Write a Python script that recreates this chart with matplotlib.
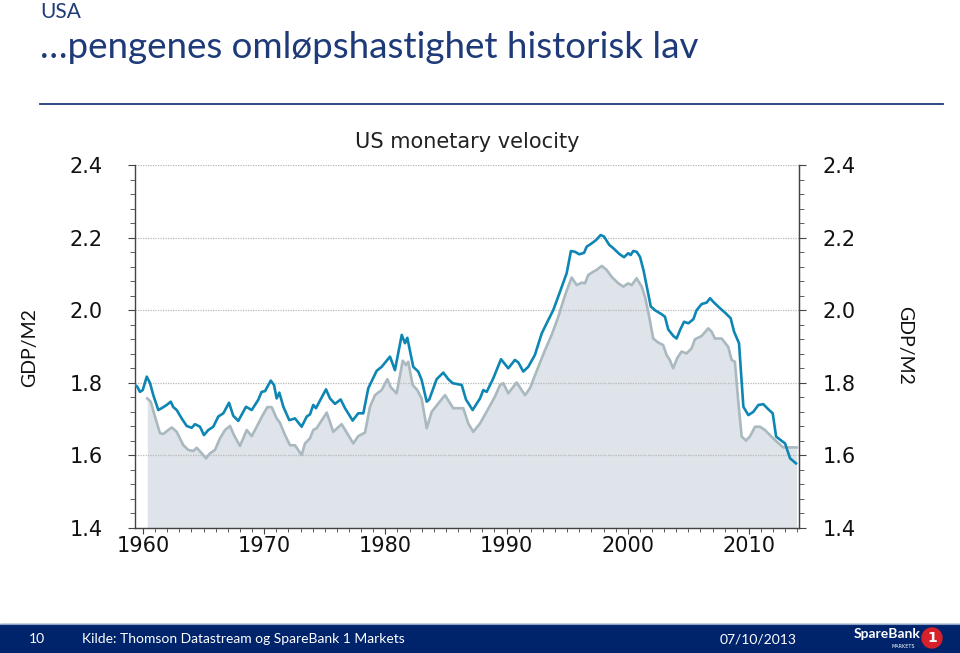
import matplotlib
matplotlib.use("Agg")
import matplotlib.pyplot as plt
from matplotlib.patches import Rectangle, Ellipse
from matplotlib.lines import Line2D
from matplotlib.ticker import MultipleLocator

# GDP/M2, blue series
blue_years = [1959.34, 1959.53, 1959.75, 1959.98, 1960.31, 1960.58, 1960.85, 1961.26, 1961.54, 1961.96,
              1962.29, 1962.50, 1962.78, 1963.19, 1963.61, 1964.02, 1964.29, 1964.70, 1965.03, 1965.39,
              1965.80, 1966.21, 1966.63, 1967.10, 1967.45, 1967.86, 1968.50, 1968.97, 1969.51, 1969.79,
              1970.07, 1970.54, 1970.81, 1971.03, 1971.25, 1971.58, 1972.07, 1972.54, 1973.09, 1973.51,
              1973.78, 1974.05, 1974.27, 1975.10, 1975.43, 1975.84, 1976.31, 1976.67, 1977.30, 1977.76,
              1978.18, 1978.59, 1979.28, 1979.69, 1980.38, 1980.79, 1981.35, 1981.62, 1981.81, 1982.30,
              1982.71, 1982.99, 1983.41, 1983.62, 1984.23, 1984.78, 1985.19, 1985.55, 1986.30, 1986.65,
              1987.20, 1987.81, 1988.08, 1988.36, 1988.90, 1989.54, 1990.14, 1990.69, 1990.97, 1991.38,
              1991.79, 1992.34, 1992.90, 1993.31, 1993.85, 1994.41, 1994.96, 1995.31, 1995.64, 1996.00,
              1996.39, 1996.61, 1997.02, 1997.38, 1997.76, 1998.04, 1998.47, 1998.80, 1999.30, 1999.69,
              2000.04, 2000.24, 2000.45, 2000.73, 2001.01, 2001.30, 2001.60, 2001.90, 2002.29, 2002.79,
              2003.07, 2003.34, 2003.76, 2004.03, 2004.31, 2004.64, 2005.00, 2005.41, 2005.68, 2006.10,
              2006.51, 2006.79, 2007.06, 2007.56, 2008.03, 2008.49, 2008.77, 2009.18, 2009.54, 2009.95,
              2010.36, 2010.78, 2011.19, 2011.60, 2011.96, 2012.24, 2012.62, 2012.98, 2013.39, 2013.88]
blue_values = [1.794, 1.789, 1.775, 1.780, 1.817, 1.799, 1.766, 1.725, 1.730, 1.739,
               1.748, 1.733, 1.725, 1.702, 1.681, 1.676, 1.686, 1.679, 1.656, 1.670,
               1.679, 1.707, 1.716, 1.745, 1.709, 1.695, 1.734, 1.725, 1.753, 1.775,
               1.777, 1.806, 1.794, 1.757, 1.773, 1.734, 1.697, 1.702, 1.679, 1.707,
               1.713, 1.739, 1.730, 1.782, 1.757, 1.742, 1.754, 1.730, 1.696, 1.716,
               1.716, 1.785, 1.833, 1.844, 1.872, 1.835, 1.932, 1.909, 1.924, 1.844,
               1.831, 1.808, 1.748, 1.754, 1.810, 1.828, 1.810, 1.799, 1.794, 1.754,
               1.725, 1.757, 1.780, 1.775, 1.812, 1.865, 1.840, 1.863, 1.856, 1.831,
               1.844, 1.877, 1.936, 1.964, 2.000, 2.051, 2.102, 2.163, 2.161, 2.154,
               2.158, 2.175, 2.184, 2.193, 2.207, 2.203, 2.180, 2.171, 2.155, 2.146,
               2.157, 2.152, 2.163, 2.161, 2.147, 2.110, 2.060, 2.010, 1.999, 1.989,
               1.982, 1.947, 1.929, 1.922, 1.945, 1.968, 1.964, 1.975, 2.000, 2.017,
               2.021, 2.033, 2.023, 2.007, 1.993, 1.978, 1.941, 1.909, 1.734, 1.711,
               1.720, 1.739, 1.741, 1.727, 1.716, 1.652, 1.642, 1.633, 1.592, 1.578]

# grey series with shaded area
grey_years = [1960.35, 1960.64, 1960.99, 1961.40, 1961.67, 1962.09, 1962.37, 1962.78, 1963.05, 1963.33,
              1963.74, 1964.15, 1964.43, 1964.84, 1965.20, 1965.53, 1965.94, 1966.35, 1966.77, 1967.18,
              1967.51, 1968.00, 1968.56, 1968.97, 1969.38, 1969.88, 1970.26, 1970.62, 1971.03, 1971.30,
              1971.72, 1972.13, 1972.54, 1973.09, 1973.37, 1973.78, 1974.05, 1974.33, 1975.16, 1975.70,
              1976.39, 1976.94, 1977.35, 1977.76, 1978.32, 1978.73, 1979.14, 1979.69, 1980.16, 1980.44,
              1980.93, 1981.43, 1981.70, 1981.89, 1982.25, 1982.63, 1982.99, 1983.41, 1983.82, 1984.36,
              1984.92, 1985.60, 1986.43, 1986.84, 1987.25, 1987.81, 1988.38, 1989.04, 1989.46, 1989.73,
              1990.14, 1990.83, 1991.52, 1991.93, 1992.62, 1993.17, 1993.72, 1994.27, 1994.83, 1995.37,
              1995.79, 1996.20, 1996.47, 1996.74, 1997.15, 1997.43, 1997.85, 1998.26, 1998.67, 1999.22,
              1999.63, 2000.04, 2000.32, 2000.73, 2001.15, 2001.42, 2001.69, 2002.10, 2002.51, 2002.92,
              2003.20, 2003.47, 2003.75, 2004.08, 2004.44, 2004.85, 2005.27, 2005.54, 2006.10, 2006.64,
              2006.92, 2007.19, 2007.75, 2008.29, 2008.57, 2008.84, 2009.12, 2009.40, 2009.75, 2010.08,
              2010.50, 2010.91, 2011.32, 2011.73, 2012.29, 2012.83, 2013.93]
grey_values = [1.757, 1.748, 1.707, 1.661, 1.659, 1.670, 1.677, 1.665, 1.647, 1.628,
               1.615, 1.612, 1.621, 1.606, 1.592, 1.606, 1.615, 1.647, 1.670, 1.681,
               1.656, 1.626, 1.670, 1.653, 1.679, 1.711, 1.733, 1.733, 1.702, 1.690,
               1.656, 1.628, 1.628, 1.601, 1.633, 1.647, 1.670, 1.675, 1.718, 1.665,
               1.686, 1.656, 1.633, 1.653, 1.663, 1.734, 1.766, 1.780, 1.810, 1.788,
               1.771, 1.861, 1.849, 1.858, 1.794, 1.780, 1.757, 1.675, 1.720, 1.743,
               1.766, 1.730, 1.730, 1.688, 1.665, 1.688, 1.722, 1.762, 1.794, 1.799,
               1.771, 1.801, 1.766, 1.785, 1.844, 1.890, 1.932, 1.982, 2.042, 2.090,
               2.069, 2.076, 2.074, 2.097, 2.106, 2.111, 2.122, 2.111, 2.092, 2.074,
               2.065, 2.074, 2.069, 2.088, 2.065, 2.037, 1.996, 1.922, 1.911, 1.904,
               1.877, 1.863, 1.840, 1.868, 1.886, 1.881, 1.895, 1.920, 1.929, 1.950,
               1.941, 1.922, 1.922, 1.899, 1.863, 1.858, 1.748, 1.652, 1.641, 1.652,
               1.679, 1.679, 1.670, 1.656, 1.638, 1.622, 1.622]

navy = "#1f3a78"
blue = "#0e86b4"
grey_line = "#a9b9bf"
grey_fill = "#dee4e9"

fig = plt.figure(figsize=(9.6, 6.53), dpi=100)

# header
fig.text(40 / 960, 1 - 12 / 653, "USA", family="Lato", fontsize=15, color=navy, va="center")
fig.text(40 / 960, 1 - 47 / 653, "\u2026pengenes omløpshastighet historisk lav", family="Lato",
         fontsize=26.5, color=navy, va="center")
fig.add_artist(Line2D([40 / 960, 943 / 960], [1 - 104 / 653, 1 - 104 / 653],
                      transform=fig.transFigure, color=navy, lw=1.3))

# chart
ax = fig.add_axes([135 / 960, 1 - 528 / 653, 664 / 960, 363 / 653])
ax.fill_between(grey_years, grey_values, 1.4, color=grey_fill, lw=0, zorder=1)
ax.plot(grey_years, grey_values, color=grey_line, lw=1.9, zorder=2)
ax.plot(blue_years, blue_values, color=blue, lw=1.9, zorder=3)

ax.set_xlim(1959.34, 2014.13)
ax.set_ylim(1.4, 2.4)
ax.yaxis.set_major_locator(MultipleLocator(0.2))
ax.yaxis.set_minor_locator(MultipleLocator(0.04))
ax.xaxis.set_major_locator(MultipleLocator(10))
ax.xaxis.set_minor_locator(MultipleLocator(1))
ax.yaxis.set_major_formatter(matplotlib.ticker.FormatStrFormatter("%.1f"))
ax.grid(axis="y", which="major", color="#b8b8b8", ls=(0, (1, 1)), lw=0.9)

ax.spines["top"].set_visible(False)
for s in ["left", "right", "bottom"]:
    ax.spines[s].set_color("#444444")
    ax.spines[s].set_linewidth(1.0)

ax.tick_params(axis="both", which="both", direction="out", colors="#444444", labelcolor="#111111")
ax.tick_params(axis="y", which="major", length=5, labelsize=15, pad=18)
ax.tick_params(axis="y", which="minor", length=3.5)
ax.tick_params(axis="x", which="major", length=4, labelsize=15, pad=2)
ax.tick_params(axis="x", which="minor", length=3)

ax2 = ax.twinx()
ax2.set_ylim(1.4, 2.4)
ax2.yaxis.set_major_locator(MultipleLocator(0.2))
ax2.yaxis.set_minor_locator(MultipleLocator(0.04))
ax2.yaxis.set_major_formatter(matplotlib.ticker.FormatStrFormatter("%.1f"))
for s in ["top", "left", "bottom"]:
    ax2.spines[s].set_visible(False)
ax2.spines["right"].set_color("#444444")
ax2.tick_params(axis="y", which="both", direction="out", colors="#444444", labelcolor="#111111")
ax2.tick_params(axis="y", which="major", length=5, labelsize=15, pad=12)
ax2.tick_params(axis="y", which="minor", length=3.5)

ax.set_title("US monetary velocity", fontsize=15, color="#222222", pad=12)

fig.text(30 / 960, 1 - 348 / 653, "GDP/M2", family="Lato", fontsize=14, rotation=90,
         ha="center", va="center", color="#111111")
fig.text(905 / 960, 1 - 345 / 653, "GDP/M2", family="Lato", fontsize=14, rotation=270,
         ha="center", va="center", color="#111111")

# footer bar
fig.add_artist(Rectangle((0, 0), 1, 29 / 653, transform=fig.transFigure, color="#00246b", zorder=0))
fig.add_artist(Line2D([0, 1], [29 / 653, 29 / 653], transform=fig.transFigure, color="#8fa2c8", lw=0.8))
fy = 1 - 639 / 653
fig.text(37 / 960, fy, "10", family="Lato", fontsize=10, color="white", ha="center", va="center")
fig.text(82 / 960, fy, "Kilde: Thomson Datastream og SpareBank 1 Markets", family="Lato",
         fontsize=10, color="white", va="center")
fig.text(758 / 960, fy, "07/10/2013", family="Lato", fontsize=10, color="white", ha="center", va="center")
fig.text(887 / 960, 1 - 634 / 653, "SpareBank", family="Lato", fontsize=10, weight="bold",
         color="white", ha="center", va="center")
fig.text(903 / 960, 1 - 646 / 653, "MARKETS", family="DejaVu Sans", fontsize=3.5, color="white",
         ha="center", va="center")
fig.add_artist(Ellipse((932 / 960, 1 - 638 / 653), 20 / 960, 20 / 653, transform=fig.transFigure,
                       color="#d6202a", zorder=2))
fig.text(932 / 960, 1 - 638 / 653, "1", family="DejaVu Sans", fontsize=10, weight="bold",
         color="white", ha="center", va="center", zorder=3)

fig.savefig("out.png", dpi=100)
